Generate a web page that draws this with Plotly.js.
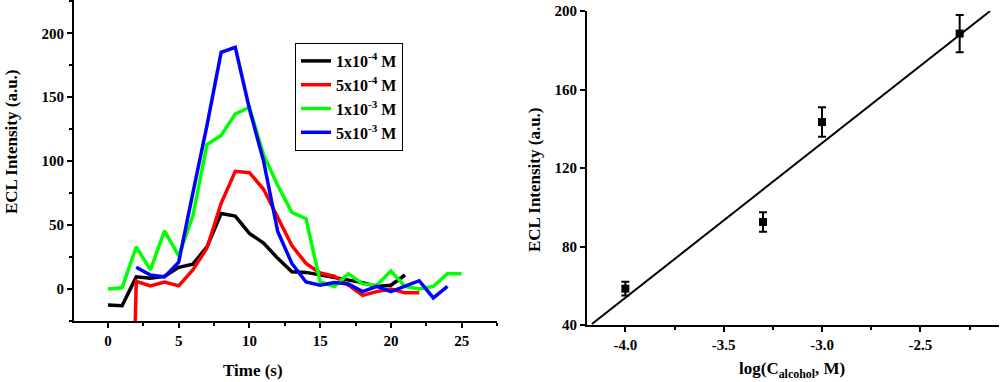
<!DOCTYPE html>
<html>
<head>
<meta charset="utf-8">
<script src="https://cdn.plot.ly/plotly-3.0.1.min.js"></script>
<style>html,body{margin:0;padding:0;background:#fff;}#chart{width:1000px;height:382px;}</style>
</head>
<body>
<div id="chart"></div>
<script>
// ---- Left panel: ECL transients ----
const timeBlack = [0,1,2,3,4,5,6,7,8,9,10,11,12,13,14,15,16,17,18,19,20,21];
const eclBlack  = [-12.5,-13,9.5,8.5,10,17,19.5,33,59,57,43.5,36,24,13.5,13,11,8.5,7,5,2,3,11];

const timeRed = [1.85,2,3,4,5,6,7,8,9,10,11,12,13,14,15,16,17,18,19,20,21,22];
const eclRed  = [-60,6,2.5,5.5,2.5,15,32,67,92,91,78,56,34,20,12.5,10,3,-5,-2,0,-3,-3];

const timeGreen = [0,1,2,3,4,5,6,7,8,9,10,11,12,13,14,15,16,17,18,19,20,21,22,23,24,25];
const eclGreen  = [0,1,33,15,45.5,26,57,113,120,137,142,105,81,60,55,5.5,2,12,4,3,14,2,0,2,12,12];

const timeBlue = [2,3,4,5,6,7,8,9,10,11,12,13,14,15,16,17,18,19,20,21,22,23,24];
const eclBlue  = [17,11,9.5,21,75,128,185,189,141,100,45,20,5.5,3,5,4,-2,2,-2,2,6.5,-7,2];

const seriesNames = ["1x10<sup>-4</sup> M","5x10<sup>-4</sup> M","1x10<sup>-3</sup> M","5x10<sup>-3</sup> M"];
const seriesColors = ["#000000","#ff0000","#00ff00","#0000ff"];

const leftXTicks = [0,5,10,15,20,25];
const leftYTicks = [0,50,100,150,200];

// ---- Right panel: calibration ----
const logConc = [-4.0,-3.3,-3.0,-2.3];
const eclMean = [58.5,92.5,143.4,188.5];
const eclErr  = [3.5,5,7.5,9.5];
const fitX = [-4.17,-2.145];
const fitY = [40.5,200];

const rightXTicks = [-4.0,-3.5,-3.0,-2.5];
const rightXTickText = ["-4.0","-3.5","-3.0","-2.5"];
const rightYTicks = [40,80,120,160,200];

const FONT = "Liberation Serif, Times New Roman, serif";

const lineData = [[timeBlack,eclBlack],[timeRed,eclRed],[timeGreen,eclGreen],[timeBlue,eclBlue]];
const traces = lineData.map((d,i)=>({
  type:"scatter", mode:"lines", x:d[0], y:d[1], name:seriesNames[i],
  line:{color:seriesColors[i], width:3.5}, xaxis:"x", yaxis:"y", showlegend:true
}));

traces.push({
  type:"scatter", mode:"lines", x:fitX, y:fitY, xaxis:"x2", yaxis:"y2",
  line:{color:"#000", width:2}, showlegend:false
});
traces.push({
  type:"scatter", mode:"markers", x:logConc, y:eclMean, xaxis:"x2", yaxis:"y2",
  marker:{symbol:"square", size:8, color:"#000"},
  error_y:{type:"data", array:eclErr, visible:true, color:"#000", thickness:2, width:4},
  showlegend:false
});

const axBase = {
  showgrid:false, zeroline:false, showline:true, linecolor:"#000", linewidth:2,
  ticks:"outside", ticklen:5, tickwidth:2, tickcolor:"#000",
  tickfont:{family:FONT, size:15, color:"#000", weight:"bold"}
};

const W=1000,H=382;
const px=(x)=>x/W, py=(y)=>1-y/H;

const layout = {
  width:W, height:H, margin:{l:0,r:0,t:0,b:0},
  paper_bgcolor:"#fff", plot_bgcolor:"#fff",
  showlegend:true,
  legend:{x:px(295), y:py(43), xanchor:"left", yanchor:"top",
    bordercolor:"#000", borderwidth:1, bgcolor:"#fff",
    font:{family:FONT, size:16, color:"#000", weight:"bold"}, tracegroupgap:0},
  xaxis:Object.assign({}, axBase, {domain:[px(74),px(497)], range:[-2.4,27.5],
    tickvals:leftXTicks, anchor:"y",
    minor:{dtick:2.5, tick0:0, ticks:"outside", ticklen:3, tickwidth:2, tickcolor:"#000"}}),
  yaxis:Object.assign({}, axBase, {domain:[py(321),1], range:[-25,226],
    tickvals:leftYTicks, anchor:"x",
    minor:{dtick:25, tick0:0, ticks:"outside", ticklen:3, tickwidth:2, tickcolor:"#000"}}),
  xaxis2:Object.assign({}, axBase, {domain:[px(587),px(999)], range:[-4.195,-2.1],
    tickvals:rightXTicks, ticktext:rightXTickText, anchor:"y2",
    minor:{dtick:0.25, tick0:0, ticks:"outside", ticklen:3, tickwidth:2, tickcolor:"#000"}}),
  yaxis2:Object.assign({}, axBase, {domain:[py(325),py(11)], range:[40,200],
    tickvals:rightYTicks, anchor:"x2"}),
  annotations:[
    {text:"Time (s)", xref:"paper", yref:"paper", x:px(253), y:py(370), showarrow:false,
      xanchor:"center", yanchor:"middle", font:{family:FONT, size:17, color:"#000", weight:"bold"}},
    {text:"ECL Intensity (a.u.)", xref:"paper", yref:"paper", x:px(11), y:py(142), showarrow:false,
      textangle:-90, xanchor:"center", yanchor:"middle", font:{family:FONT, size:17, color:"#000", weight:"bold"}},
    {text:"log(C<sub>alcohol</sub>, M)", xref:"paper", yref:"paper", x:px(792), y:py(370), showarrow:false,
      xanchor:"center", yanchor:"middle", font:{family:FONT, size:17, color:"#000", weight:"bold"}},
    {text:"ECL Intensity (a.u.)", xref:"paper", yref:"paper", x:px(535), y:py(180), showarrow:false,
      textangle:-90, xanchor:"center", yanchor:"middle", font:{family:FONT, size:17, color:"#000", weight:"bold"}}
  ]
};

Plotly.newPlot("chart", traces, layout, {displayModeBar:false, staticPlot:true});
</script>
</body>
</html>
